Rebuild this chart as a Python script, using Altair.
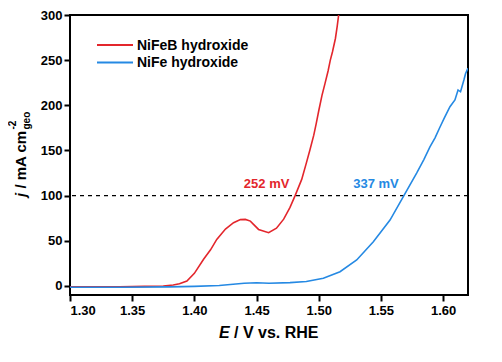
import altair as alt
import pandas as pd

# NiFeB hydroxide (red)
red_E = [1.300, 1.320, 1.340, 1.360, 1.375, 1.383, 1.388, 1.394, 1.400, 1.4074,
         1.413, 1.418, 1.425, 1.4315, 1.437, 1.441, 1.445, 1.4516, 1.4597, 1.466,
         1.4718, 1.4769, 1.481, 1.4863, 1.490, 1.493, 1.496, 1.498, 1.500, 1.5026,
         1.505, 1.5075, 1.5093, 1.511, 1.5134, 1.5148, 1.5160]
red_j = [-1, -1, -1, -0.5, 0, 1, 2.5, 5.5, 14, 29.5,
         40, 51.6, 63, 70, 73.5, 73.7, 71.8, 62.6, 59, 64,
         74, 87, 100, 118, 136, 151, 167, 180, 194, 211,
         224, 238, 250, 259, 274, 287, 300]

# NiFe hydroxide (blue)
blue_E = [1.300, 1.340, 1.380, 1.400, 1.420, 1.440, 1.450, 1.460, 1.4769, 1.490,
          1.5037, 1.5171, 1.5305, 1.5439, 1.5573, 1.568, 1.5787, 1.5845, 1.5894, 1.5935,
          1.5975, 1.601, 1.6055, 1.6095, 1.612, 1.614, 1.6167, 1.618, 1.6199]
blue_j = [-1.5, -1.5, -1, -0.5, 0.5, 3, 3.5, 3, 3.7, 5,
          8.5, 15.8, 28.8, 49, 73, 99, 125, 140, 154, 164,
          176, 186, 198.5, 206, 217, 215, 228, 235, 241]

series_names = ["NiFeB hydroxide", "NiFe hydroxide"]
series_colors = ["#e3262c", "#2589e3"]

ann_text = ["252 mV", "337 mV"]
ann_E = [1.4581, 1.5460]
ann_j = [112.6, 112.6]

x_ticks = [1.30, 1.35, 1.40, 1.45, 1.50, 1.55, 1.60]
y_ticks = [0, 50, 100, 150, 200, 250, 300]

FONT = "Liberation Sans"

df = pd.concat([
    pd.DataFrame({"E": red_E, "j": red_j, "series": series_names[0], "order": range(len(red_E))}),
    pd.DataFrame({"E": blue_E, "j": blue_j, "series": series_names[1], "order": range(len(blue_E))}),
])
ann = pd.DataFrame({"E": ann_E, "j": ann_j, "text": ann_text, "series": series_names})

xscale = alt.Scale(domain=[1.30, 1.62], nice=False, zero=False)
yscale = alt.Scale(domain=[-10, 300], nice=False, zero=False)
cscale = alt.Scale(domain=series_names, range=series_colors)

lines = alt.Chart(df).mark_line(strokeWidth=1.6, clip=True).encode(
    x=alt.X("E:Q", scale=xscale,
            axis=alt.Axis(values=x_ticks, format=".2f", title=None, grid=False, domain=False,
                          tickSize=6, tickWidth=2, tickColor="black", labelPadding=3)),
    y=alt.Y("j:Q", scale=yscale,
            axis=alt.Axis(values=y_ticks, title=None, grid=False, domain=False,
                          tickSize=6, tickWidth=2, tickColor="black", labelPadding=2)),
    color=alt.Color("series:N", scale=cscale, sort=series_names, legend=None),
    order="order:Q",
)

hline = alt.Chart(pd.DataFrame({"y": [100]})).mark_rule(
    color="black", strokeWidth=1.2, strokeDash=[4, 4]).encode(y=alt.Y("y:Q", scale=yscale))

labels = alt.Chart(ann).mark_text(font=FONT, fontWeight="bold", fontSize=13, baseline="middle").encode(
    x=alt.X("E:Q", scale=xscale), y=alt.Y("j:Q", scale=yscale),
    text="text:N", color=alt.Color("series:N", scale=cscale, legend=None))

# manual legend
legend_layers = []
for i, (name, col) in enumerate(zip(series_names, series_colors)):
    ly = 30 + 17.5 * i
    legend_layers.append(
        alt.Chart(pd.DataFrame({"s": [name]})).mark_rule(strokeWidth=2, color=col).encode(
            x=alt.value(27), x2=alt.value(63), y=alt.value(ly)))
    legend_layers.append(
        alt.Chart(pd.DataFrame({"s": [name]})).mark_text(
            font=FONT, fontWeight="bold", fontSize=14, align="left", baseline="middle", color="black").encode(
            x=alt.value(67), y=alt.value(ly + 0.5), text="s:N"))

def txt(t, x, y, size, italic=False, angle=0, align="left", baseline="alphabetic"):
    return alt.Chart(pd.DataFrame({"t": [t]})).mark_text(
        font=FONT, fontWeight="bold", fontSize=size, fontStyle="italic" if italic else "normal",
        angle=angle, align=align, baseline=baseline, color="black").encode(
        x=alt.value(x), y=alt.value(y), text="t:N")

titles = [
    txt("E", 149, 322.5, 16, italic=True),
    txt("/ V vs. RHE", 164, 322.5, 16),
    txt("j", -44, 182, 15, italic=True, angle=270),
    txt("/ mA cm", -44, 173.6, 15, angle=270),
    txt("-2", -54, 114.5, 10, angle=270),
    txt("geo", -40, 114.5, 10, angle=270),
]

chart = alt.layer(hline, lines, labels, *legend_layers, *titles).properties(
    width=398, height=280,
    autosize=alt.AutoSizeParams(type="none"),
    padding={"left": 62, "top": 7, "right": 26, "bottom": 60},
).configure_view(stroke="black", strokeWidth=2).configure_axis(
    labelFont=FONT, labelFontWeight="bold", labelFontSize=13, labelColor="black"
)

chart.save("out.html", embed_options={"renderer": "svg", "actions": False})
